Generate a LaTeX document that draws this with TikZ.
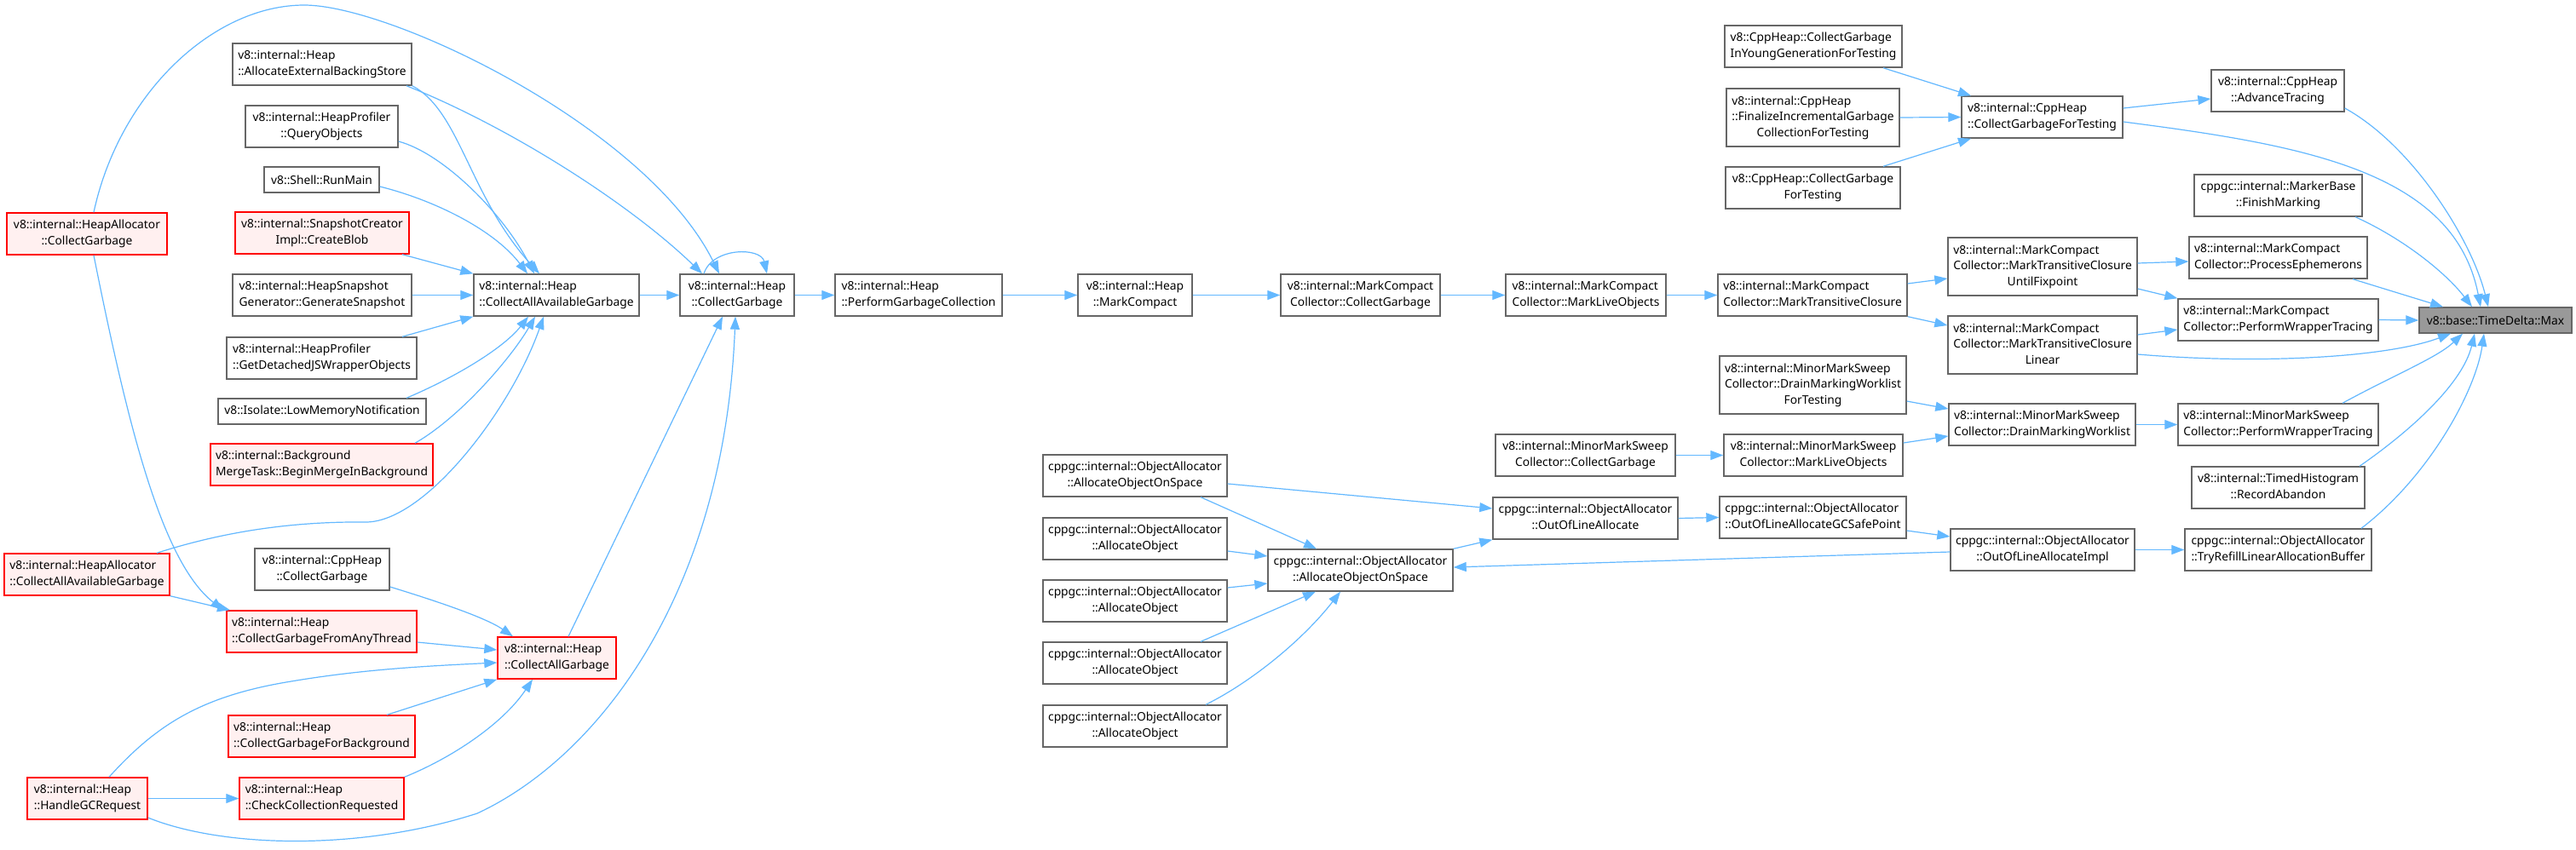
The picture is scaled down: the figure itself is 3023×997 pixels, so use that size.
\documentclass[tikz,border=0pt]{standalone}
\usepackage{fontspec}
\setmainfont{Noto Sans}
\usetikzlibrary{arrows.meta}
\definecolor{edgeblue}{HTML}{63B8FF}
\definecolor{nodegray}{HTML}{666666}
\definecolor{redfill}{HTML}{FFF0F0}
\definecolor{maxfill}{HTML}{999999}
\newcommand{\dxa}[2]{\begin{tabular}{@{}l@{}}#1\\\multicolumn{1}{@{}c@{}}{#2}\end{tabular}}
\newcommand{\dxb}[3]{\begin{tabular}{@{}l@{}}#1\\#2\\\multicolumn{1}{@{}c@{}}{#3}\end{tabular}}
\newcommand{\bx}[7]{%
  \pgfmathsetmacro{\bxw}{(#5-#3)*0.5}%
  \pgfmathsetmacro{\bxh}{(#6-#4)*0.5}%
  \pgfmathsetmacro{\bxcx}{(#3+#5)/2}%
  \pgfmathsetmacro{\bxcy}{(#4+#6)/2}%
  \node[#1, minimum width=\bxw pt, minimum height=\bxh pt] (#2) at (\bxcx,\bxcy) {#7};}
\begin{document}
\begin{tikzpicture}[x=0.5pt,y=-0.5pt,
  base/.style={rectangle, inner sep=0pt, line width=0.7pt, text=black,
    font=\fontsize{6.9}{9.35}\selectfont},
  wbox/.style={base, draw=nodegray, fill=white},
  rbox/.style={base, draw=red, fill=redfill},
  gbox/.style={base, draw=nodegray, fill=maxfill},
  edge/.style={draw=edgeblue, line width=0.6pt, -{Triangle[length=7.5pt,width=5.5pt]}}]
\fill[white] (0,0) rectangle (3023,997);
\useasboundingbox (0,0) rectangle (3023,997);

% column 1
\bx{rbox}{hacg}{8}{250}{196}{299}{\dxa{v8::internal::HeapAllocator}{::CollectGarbage}}
\bx{rbox}{hacaag}{5}{650}{199}{699}{\dxa{v8::internal::HeapAllocator}{::CollectAllAvailableGarbage}}
\bx{rbox}{hgc}{32}{913}{173}{962}{\dxa{v8::internal::Heap}{::HandleGCRequest}}
% column 2
\bx{wbox}{aebs}{273}{51}{483}{100}{\dxa{v8::internal::Heap}{::AllocateExternalBackingStore}}
\bx{wbox}{qo}{288}{124}{467}{173}{\dxa{v8::internal::HeapProfiler}{::QueryObjects}}
\bx{wbox}{rm}{310}{196}{445}{226}{v8::Shell::RunMain}
\bx{rbox}{cb}{276}{249}{480}{298}{\dxa{v8::internal::SnapshotCreator}{Impl::CreateBlob}}
\bx{wbox}{gs}{273}{322}{483}{371}{\dxa{v8::internal::HeapSnapshot}{Generator::GenerateSnapshot}}
\bx{wbox}{gd}{266}{396}{489}{445}{\dxa{v8::internal::HeapProfiler}{::GetDetachedJSWrapperObjects}}
\bx{wbox}{lmn}{256}{468}{500}{498}{v8::Isolate::LowMemoryNotification}
\bx{rbox}{bmib}{247}{521}{508}{570}{\dxa{v8::internal::Background}{MergeTask::BeginMergeInBackground}}
\bx{wbox}{chcg}{299}{644}{457}{693}{\dxa{v8::internal::CppHeap}{::CollectGarbage}}
\bx{rbox}{cgfat}{266}{717}{489}{766}{\dxa{v8::internal::Heap}{::CollectGarbageFromAnyThread}}
\bx{rbox}{cgfb}{268}{840}{487}{889}{\dxa{v8::internal::Heap}{::CollectGarbageForBackground}}
\bx{rbox}{ccr}{281}{913}{474}{962}{\dxa{v8::internal::Heap}{::CheckCollectionRequested}}
% column 3
\bx{wbox}{caag}{556}{322}{750}{371}{\dxa{v8::internal::Heap}{::CollectAllAvailableGarbage}}
\bx{rbox}{cag}{584}{748}{723}{797}{\dxa{v8::internal::Heap}{::CollectAllGarbage}}
% main row
\bx{wbox}{hcg}{798}{322}{932}{371}{\dxa{v8::internal::Heap}{::CollectGarbage}}
\bx{wbox}{pgc}{980}{322}{1176}{371}{\dxa{v8::internal::Heap}{::PerformGarbageCollection}}
\bx{wbox}{mc}{1265}{322}{1399}{371}{\dxa{v8::internal::Heap}{::MarkCompact}}
\bx{wbox}{mccg}{1503}{322}{1690}{371}{\dxa{v8::internal::MarkCompact}{Collector::CollectGarbage}}
\bx{wbox}{mcmlo}{1767}{322}{1955}{371}{\dxa{v8::internal::MarkCompact}{Collector::MarkLiveObjects}}
\bx{wbox}{mtc}{2016}{322}{2238}{371}{\dxa{v8::internal::MarkCompact}{Collector::MarkTransitiveClosure}}
% object allocator group
\bx{wbox}{aoosl}{1224}{534}{1440}{583}{\dxa{cppgc::internal::ObjectAllocator}{::AllocateObjectOnSpace}}
\bx{wbox}{ao1}{1224}{608}{1440}{657}{\dxa{cppgc::internal::ObjectAllocator}{::AllocateObject}}
\bx{wbox}{ao2}{1224}{681}{1440}{730}{\dxa{cppgc::internal::ObjectAllocator}{::AllocateObject}}
\bx{wbox}{ao3}{1224}{754}{1440}{803}{\dxa{cppgc::internal::ObjectAllocator}{::AllocateObject}}
\bx{wbox}{ao4}{1224}{828}{1440}{877}{\dxa{cppgc::internal::ObjectAllocator}{::AllocateObject}}
\bx{wbox}{aoosc}{1488}{645}{1705}{694}{\dxa{cppgc::internal::ObjectAllocator}{::AllocateObjectOnSpace}}
\bx{wbox}{oola}{1752}{584}{1969}{633}{\dxa{cppgc::internal::ObjectAllocator}{::OutOfLineAllocate}}
\bx{wbox}{mmscg}{1755}{510}{1966}{559}{\dxa{v8::internal::MinorMarkSweep}{Collector::CollectGarbage}}
% right part
\bx{wbox}{yg}{2024}{30}{2232}{79}{\dxa{v8::CppHeap::CollectGarbage}{InYoungGenerationForTesting}}
\bx{wbox}{fin}{2026}{104}{2229}{172}{\dxb{v8::internal::CppHeap}{::FinalizeIncrementalGarbage}{CollectionForTesting}}
\bx{wbox}{v8cgft}{2025}{196}{2230}{245}{\dxa{v8::CppHeap::CollectGarbage}{ForTesting}}
\bx{wbox}{dmwft}{2018}{418}{2237}{486}{\dxb{v8::internal::MinorMarkSweep}{Collector::DrainMarkingWorklist}{ForTesting}}
\bx{wbox}{mmsmlo}{2023}{510}{2233}{559}{\dxa{v8::internal::MinorMarkSweep}{Collector::MarkLiveObjects}}
\bx{wbox}{gcsp}{2018}{583}{2237}{632}{\dxa{cppgc::internal::ObjectAllocator}{::OutOfLineAllocateGCSafePoint}}
\bx{wbox}{icgft}{2302}{113}{2491}{162}{\dxa{v8::internal::CppHeap}{::CollectGarbageForTesting}}
\bx{wbox}{ufp}{2286}{279}{2508}{347}{\dxb{v8::internal::MarkCompact}{Collector::MarkTransitiveClosure}{UntilFixpoint}}
\bx{wbox}{lin}{2286}{371}{2508}{439}{\dxb{v8::internal::MarkCompact}{Collector::MarkTransitiveClosure}{Linear}}
\bx{wbox}{dmw}{2287}{474}{2506}{523}{\dxa{v8::internal::MinorMarkSweep}{Collector::DrainMarkingWorklist}}
\bx{wbox}{oolai}{2289}{621}{2505}{670}{\dxa{cppgc::internal::ObjectAllocator}{::OutOfLineAllocateImpl}}
\bx{wbox}{at}{2595}{82}{2751}{131}{\dxa{v8::internal::CppHeap}{::AdvanceTracing}}
\bx{wbox}{fm}{2575}{205}{2772}{254}{\dxa{cppgc::internal::MarkerBase}{::FinishMarking}}
\bx{wbox}{pe}{2569}{278}{2778}{327}{\dxa{v8::internal::MarkCompact}{Collector::ProcessEphemerons}}
\bx{wbox}{mcpwt}{2556}{351}{2791}{400}{\dxa{v8::internal::MarkCompact}{Collector::PerformWrapperTracing}}
\bx{wbox}{mmspwt}{2556}{474}{2791}{523}{\dxa{v8::internal::MinorMarkSweep}{Collector::PerformWrapperTracing}}
\bx{wbox}{ra}{2572}{548}{2775}{597}{\dxa{v8::internal::TimedHistogram}{::RecordAbandon}}
\bx{wbox}{tr}{2564}{621}{2783}{670}{\dxa{cppgc::internal::ObjectAllocator}{::TryRefillLinearAllocationBuffer}}
\bx{gbox}{max}{2839}{361}{3018}{391}{v8::base::TimeDelta::Max}

% main chain
\draw[edge] (caag.east) -- (hcg.west);
\draw[edge] (hcg.east) -- (pgc.west);
\draw[edge] (pgc.east) -- (mc.west);
\draw[edge] (mc.east) -- (mccg.west);
\draw[edge] (mccg.east) -- (mcmlo.west);
\draw[edge] (mcmlo.east) -- (mtc.west);
\draw[edge] (mtc.east |- 0,333) -- (ufp.west |- 0,327);
\draw[edge] (mtc.south east) -- (lin.west |- 0,382);
\draw[edge] (ufp.east |- 0,309) -- (pe.west |- 0,307);
\draw[edge] (ufp.east |- 0,339) -- (mcpwt.north west);
\draw[edge] (lin.east |- 0,393) -- (mcpwt.west |- 0,387);
\draw[edge] (2761,0 |- pe.south) -- (2867,0 |- max.north);
\draw[edge] (mcpwt.east) -- (max.west);
\draw[edge] (lin.east |- 0,416) .. controls (2650,428) and (2800,420) .. (2876,0 |- max.south);
\draw[edge] (icgft.east |- 0,143) .. controls (2700,170) and (2880,200) .. (2911,0 |- max.north);
\draw[edge] (at.east |- 0,127) .. controls (2830,170) and (2900,280) .. (2920,0 |- max.north);
\draw[edge] (2764,0 |- fm.south) .. controls (2820,280) and (2870,320) .. (2901,0 |- max.north);
\draw[edge] (2749,0 |- mmspwt.north) .. controls (2810,440) and (2860,420) .. (2890,0 |- max.south);
\draw[edge] (2769,0 |- ra.north) .. controls (2830,505) and (2890,450) .. (2904,0 |- max.south);
\draw[edge] (2771,0 |- tr.north) .. controls (2850,560) and (2905,460) .. (2915,0 |- max.south);
% CppHeap group
\draw[edge] (2210,0 |- yg.south) -- (2313,0 |- icgft.north);
\draw[edge] (fin.east) -- (icgft.west);
\draw[edge] (2210,0 |- v8cgft.north) -- (2313,0 |- icgft.south);
\draw[edge] (icgft.east |- 0,127) -- (at.west |- 0,116);
% minor mark sweep
\draw[edge] (dmwft.east |- 0,471) -- (dmw.west |- 0,480);
\draw[edge] (mmsmlo.east |- 0,520) -- (dmw.west |- 0,512);
\draw[edge] (mmscg.east) -- (mmsmlo.west);
\draw[edge] (dmw.east) -- (mmspwt.west);
% object allocator
\draw[edge] (oola.east) -- (gcsp.west);
\draw[edge] (gcsp.east |- 0,623) -- (oolai.west |- 0,630);
\draw[edge] (oolai.east) -- (tr.west);
\draw[edge] (oolai.west |- 0,648) -- (aoosc.east |- 0,666);
\draw[edge] (aoosc.north east) -- (oola.south west);
\draw[edge] (aoosl.east |- 0,568) -- (oola.west |- 0,597);
\draw[edge] (1409,0 |- aoosl.south) -- (1545,0 |- aoosc.north);
\draw[edge] (ao1.east |- 0,647) -- (aoosc.west |- 0,653);
\draw[edge] (ao2.east |- 0,690) -- (aoosc.west |- 0,685);
\draw[edge] (1409,0 |- ao3.north) -- (1544,0 |- aoosc.south);
\draw[edge] (1415,0 |- ao4.north) .. controls (1470,800) and (1530,750) .. (1573,0 |- aoosc.south);
% left part
\draw[edge] (aebs.south east) .. controls (540,130) and (550,230) .. (633,0 |- caag.north);
\draw[edge] (477,0 |- aebs.south) .. controls (600,150) and (740,240) .. (824,0 |- hcg.north);
\draw[edge] (qo.east |- 0,166) .. controls (520,180) and (590,250) .. (627,0 |- caag.north);
\draw[edge] (rm.east |- 0,219) .. controls (510,235) and (580,270) .. (619,0 |- caag.north);
\draw[edge] (472,0 |- cb.south) -- (caag.north west);
\draw[edge] (gs.east) -- (caag.west);
\draw[edge] (472,0 |- gd.north) -- (caag.south west);
\draw[edge] (477,0 |- lmn.north) .. controls (530,445) and (590,410) .. (620,0 |- caag.south);
\draw[edge] (487,0 |- bmib.north) .. controls (540,490) and (600,420) .. (628,0 |- caag.south);
\draw[edge] (184,0 |- hacaag.north) .. controls (260,625) and (340,612) .. (430,613) .. controls (500,612) and (600,480) .. (638,0 |- caag.south);
\draw[edge] (110,0 |- hacg.north) .. controls (140,110) and (250,6) .. (357,6) .. controls (460,6) and (760,150) .. (844,0 |- hcg.north);
\draw[edge] (110,0 |- hacg.south) .. controls (150,500) and (190,660) .. (262,0 |- cgfat.north);
\draw[edge] (hacaag.south east) -- (270,0 |- cgfat.north);
\draw[edge] (chcg.east |- 0,689) .. controls (510,705) and (570,725) .. (602,0 |- cag.north);
\draw[edge] (cgfat.east |- 0,754) -- (cag.west |- 0,763);
\draw[edge] (128,0 |- hgc.north) .. controls (180,855) and (230,820) .. (330,802) .. controls (420,786) and (500,782) .. (cag.west |- 0,778);
\draw[edge] (454,0 |- cgfb.north) -- (cag.south west);
\draw[edge] (ccr.north east) .. controls (530,890) and (590,850) .. (625,0 |- cag.south);
\draw[edge] (hgc.east) -- (ccr.west);
\draw[edge] (hgc.east |- 0,960) .. controls (260,995) and (420,1000) .. (560,955) .. controls (700,890) and (850,700) .. (863,0 |- hcg.south);
\draw[edge] (667,0 |- cag.north) -- (848,0 |- hcg.south);
\draw[edge] (826,0 |- hcg.north) .. controls (836,290) and (893,290) .. (900,0 |- hcg.north);
\end{tikzpicture}
\end{document}
